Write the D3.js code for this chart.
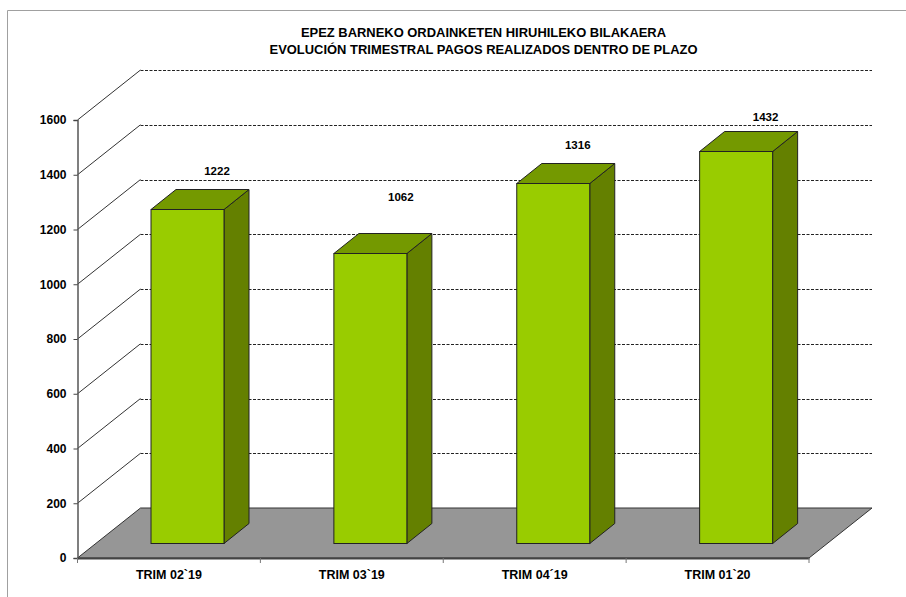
<!DOCTYPE html>
<html><head><meta charset="utf-8">
<script src="https://cdn.jsdelivr.net/npm/d3@7"></script>
<style>
html,body{margin:0;padding:0;background:#fff;overflow:hidden}
svg{display:block}
text{font-family:"Liberation Sans",Arial,sans-serif;font-weight:bold;fill:#000}
</style></head><body>
<svg id="c" width="906" height="597"></svg>
<script>
const categories = ["TRIM 02`19","TRIM 03`19","TRIM 04´19","TRIM 01`20"];
const values = [1222,1062,1316,1432];
const yTicks = [0,200,400,600,800,1000,1200,1400,1600];
const titleLines = ["EPEZ BARNEKO ORDAINKETEN HIRUHILEKO BILAKAERA","EVOLUCIÓN TRIMESTRAL PAGOS REALIZADOS DENTRO DE PLAZO"];

const svg = d3.select("#c");
const x0=77.5, x1=809, yB=558, yT=120, depthX=63, depthY=50;
const y = d3.scaleLinear().domain([0,1600]).range([yB,yT]);
const x = d3.scaleBand().domain(categories).range([x0,x1]).paddingInner(0).paddingOuter(0);
const barW=73, barOffX=73.5, frontDY=15, sideDX=25, sideDY=20;
const labelGap=[39,57,39,35], labelX=[66,67,61,66];

// frame
svg.append("path").attr("d","M7.5,597V10.5H906").attr("fill","none").attr("stroke","#a0a0a0").attr("stroke-width",1);

// title
svg.append("g").selectAll("text").data(titleLines).join("text")
  .attr("x",483.5).attr("y",(d,i)=>36.5+i*17).attr("text-anchor","middle").attr("font-size",12.95).text(d=>d);

// walls
const gridVals = yTicks.filter(v=>v>0);
svg.append("g").selectAll("line").data(gridVals).join("line")
  .attr("x1",x0+depthX).attr("x2",x1+depthX)
  .attr("y1",d=>Math.round(y(d)-depthY)+.5).attr("y2",d=>Math.round(y(d)-depthY)+.5)
  .attr("stroke","#222").attr("stroke-width",1).attr("stroke-dasharray","3,1.5");
svg.append("g").selectAll("line").data(gridVals).join("line")
  .attr("x1",x0).attr("y1",d=>y(d)).attr("x2",x0+depthX).attr("y2",d=>y(d)-depthY)
  .attr("stroke","#333").attr("stroke-width",1);

// floor
svg.append("path")
  .attr("d",`M${x0},${y(0)}L${x0+depthX},${y(0)-depthY}L${x1+depthX},${y(0)-depthY}L${x1},${y(0)}Z`)
  .attr("fill","#969696").attr("stroke","#333").attr("stroke-width",1);

// axes
const yAxis = d3.axisLeft(y).tickValues(yTicks).tickFormat(d3.format("d")).tickSize(4).tickPadding(7);
const gy = svg.append("g").attr("transform",`translate(${x0},0)`).call(yAxis);
gy.selectAll("text").attr("font-size",12).attr("font-family",'"Liberation Sans",Arial,sans-serif');
gy.selectAll("line").attr("stroke","#444");
gy.select(".domain").attr("stroke","#555").attr("stroke-width",1.5);
const xAxis = d3.axisBottom(x).tickSize(0).tickPadding(12);
const gx = svg.append("g").attr("transform",`translate(0,${y(0)})`).call(xAxis);
gx.selectAll("text").attr("font-size",12.5).attr("font-family",'"Liberation Sans",Arial,sans-serif');
gx.select(".domain").attr("stroke","#444").attr("stroke-width",2.2);
svg.append("g").selectAll("line").data(d3.range(categories.length+1)).join("line")
  .attr("x1",i=>x0+i*x.step()).attr("x2",i=>x0+i*x.step()).attr("y1",y(0)).attr("y2",y(0)+5)
  .attr("stroke","#777");

// bars
const bars = svg.append("g").selectAll("g").data(categories.map((c,i)=>({c,v:values[i],i}))).join("g");
const bx = d=>x(d.c)+barOffX;
const barBot = y(0)-frontDY+.5;
const barTop = d=>Math.round(barBot-(y(0)-y(d.v)))+.5;
bars.append("path") // side
  .attr("d",d=>`M${bx(d)+barW},${barTop(d)}L${bx(d)+barW+sideDX},${barTop(d)-sideDY}L${bx(d)+barW+sideDX},${barBot-sideDY}L${bx(d)+barW},${barBot}Z`)
  .attr("fill","#648000").attr("stroke","#222").attr("stroke-width",1).attr("stroke-linejoin","round");
bars.append("path") // top
  .attr("d",d=>`M${bx(d)},${barTop(d)}L${bx(d)+sideDX},${barTop(d)-sideDY}L${bx(d)+barW+sideDX},${barTop(d)-sideDY}L${bx(d)+barW},${barTop(d)}Z`)
  .attr("fill","#749900").attr("stroke","#222").attr("stroke-width",1).attr("stroke-linejoin","round");
bars.append("rect")
  .attr("x",bx).attr("y",barTop).attr("width",barW).attr("height",d=>barBot-barTop(d))
  .attr("fill","#99cc00").attr("stroke","#222").attr("stroke-width",1);
bars.append("text")
  .attr("x",d=>bx(d)+labelX[d.i]).attr("y",d=>barTop(d)-labelGap[d.i]+4)
  .attr("text-anchor","middle").attr("font-size",11.5).text(d=>d.v);
</script>
</body></html>
